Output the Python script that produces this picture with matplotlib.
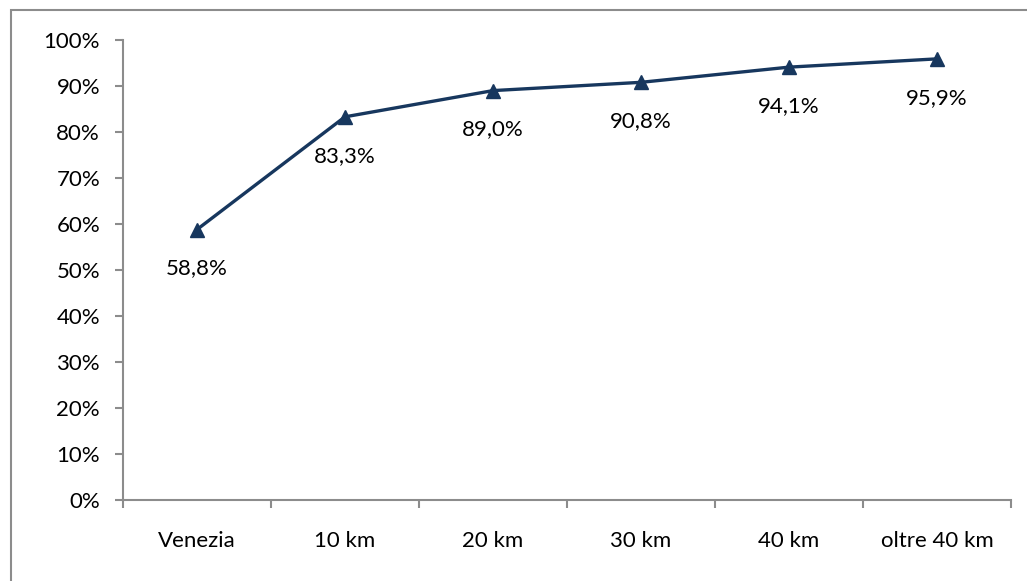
import matplotlib.pyplot as plt
from matplotlib.patches import Rectangle
from matplotlib.ticker import FixedLocator, FuncFormatter

categories = ["Venezia", "10 km", "20 km", "30 km", "40 km", "oltre 40 km"]
values = [58.8, 83.3, 89.0, 90.8, 94.1, 95.9]
y_ticks = [0, 10, 20, 30, 40, 50, 60, 70, 80, 90, 100]

plt.rcParams['font.family'] = ['Lato', 'DejaVu Sans']
W, H = 1027, 581
fig = plt.figure(figsize=(W / 100, H / 100), dpi=100)

# outer chart frame
fig.add_artist(Rectangle((10.5 / W, -0.05), 1.1, 1 - 10.5 / H + 0.05,
                         transform=fig.transFigure, fill=False,
                         edgecolor='#8c8c8c', linewidth=1.5))

ax = fig.add_axes([123 / W, 81 / H, (1011 - 123) / W, (500 - 40) / H])
line_color = '#17375E'
x = list(range(len(categories)))
ax.plot(x, values, color=line_color, linewidth=2.4, marker='^',
        markersize=10, markerfacecolor=line_color, markeredgecolor=line_color)

fs = 16
for xi, v in zip(x, values):
    ax.annotate(f"{v:.1f}%".replace('.', ','), (xi, v), xytext=(0, -28),
                textcoords='offset points', ha='center', va='center',
                fontsize=fs, color='black')

ax.set_xlim(-0.5, len(categories) - 0.5)
ax.set_ylim(0, 100)
ax.yaxis.set_major_locator(FixedLocator(y_ticks))
ax.yaxis.set_major_formatter(FuncFormatter(lambda v, p: f"{v:.0f}%"))
ax.xaxis.set_major_locator(FixedLocator(x))
ax.set_xticklabels(categories)
ax.xaxis.set_minor_locator(FixedLocator([i - 0.5 for i in range(len(categories) + 1)]))

for s in ['top', 'right']:
    ax.spines[s].set_visible(False)
for s in ['left', 'bottom']:
    ax.spines[s].set_color('#8c8c8c')
    ax.spines[s].set_linewidth(1.5)

ax.tick_params(axis='y', which='major', length=5.5, width=1.5, color='#8c8c8c',
               labelsize=fs, pad=11)
ax.tick_params(axis='x', which='major', length=0, labelsize=fs, pad=22)
ax.tick_params(axis='x', which='minor', length=5.5, width=1.5, color='#8c8c8c')

fig.savefig('out.png', dpi=100)
